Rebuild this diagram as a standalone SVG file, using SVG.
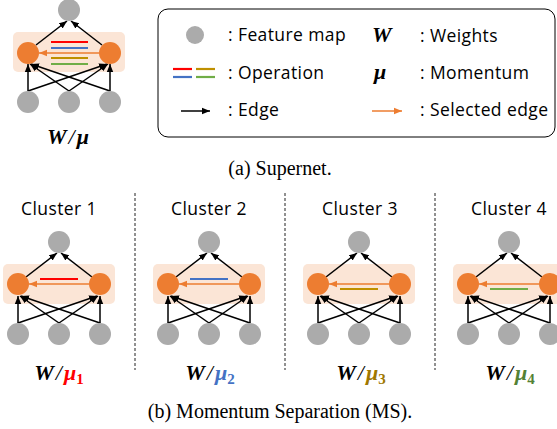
<svg xmlns="http://www.w3.org/2000/svg" width="557" height="429" viewBox="0 0 557 429">
  <defs>
    <style>
      .fm { fill: #ABABAB; }
      .on { fill: #ED7D31; }
      .box { fill: #FBE5D6; }
      .e { stroke: #000; stroke-width: 1.5; fill: none; marker-end: url(#ah); }
      .se { stroke: #ED7D31; stroke-width: 1.5; fill: none; marker-end: url(#aho); }
      .op { stroke-width: 2.2; fill: none; }
      .lbl { font-family: "Open Sans", "Noto Sans", sans-serif; font-size: 17.5px; letter-spacing: 0.4px; fill: #000; }
      .math { font-family: "Liberation Serif", serif; font-weight: bold; font-style: italic; font-size: 22px; }
      .slash { font-weight: normal; }
      .sub { font-style: normal; font-size: 15px; }
      .cap { font-family: "Liberation Serif", serif; font-size: 20px; fill: #000; }
      .sep { stroke: #222; stroke-width: 1; stroke-dasharray: 3 2; }
    </style>
    <marker id="ah" viewBox="0 0 10 10" refX="10" refY="5" markerWidth="8" markerHeight="8" orient="auto" markerUnits="userSpaceOnUse">
      <path d="M0,1 L10,5 L0,9 z" fill="#000"/>
    </marker>
    <marker id="aho" viewBox="0 0 10 10" refX="10" refY="5" markerWidth="8" markerHeight="8" orient="auto" markerUnits="userSpaceOnUse">
      <path d="M0,1 L10,5 L0,9 z" fill="#ED7D31"/>
    </marker>
  </defs>

  <!-- Supernet -->
  <g id="supernet">
    <rect class="box" x="13" y="32" width="112" height="40" rx="5"/>
    <g id="sn-edges">
      <line class="e" x1="36" y1="45" x2="67" y2="21"/>
      <line class="e" x1="102" y1="45" x2="71" y2="21"/>
      <line class="e" x1="28" y1="91" x2="28" y2="64"/>
      <line class="e" x1="28" y1="91" x2="107" y2="64"/>
      <line class="e" x1="69" y1="91" x2="30" y2="64"/>
      <line class="e" x1="69" y1="91" x2="108" y2="64"/>
      <line class="e" x1="110" y1="91" x2="31" y2="64"/>
      <line class="e" x1="110" y1="91" x2="110" y2="64"/>
      <line class="se" x1="99" y1="53" x2="39" y2="53"/>
      <line class="op" stroke="#FF0000" x1="51" y1="42" x2="88" y2="42"/>
      <line class="op" stroke="#4472C4" x1="51" y1="48" x2="88" y2="48"/>
      <line class="op" stroke="#BF9000" x1="51" y1="58" x2="88" y2="58"/>
      <line class="op" stroke="#70AD47" x1="51" y1="64" x2="88" y2="64"/>
    </g>
    <g id="sn-top"><circle class="fm" cx="69" cy="10" r="11"/></g>
    <g id="sn-left"><circle class="on" cx="28" cy="53" r="11"/></g>
    <g id="sn-right"><circle class="on" cx="110" cy="53" r="11"/></g>
    <g id="sn-in1"><circle class="fm" cx="28" cy="102" r="11"/></g>
    <g id="sn-in2"><circle class="fm" cx="69" cy="102" r="11"/></g>
    <g id="sn-in3"><circle class="fm" cx="110" cy="102" r="11"/></g>
    <text class="math" x="68" y="144" text-anchor="middle">W<tspan class="slash" dx="2">/</tspan><tspan dx="2">μ</tspan></text>
  </g>

  <!-- Legend -->
  <g id="legend">
    <rect x="158" y="9" width="397" height="128" rx="10" fill="#fff" stroke="#000" stroke-width="1"/>
    <circle class="fm" cx="195" cy="35" r="9"/>
    <text class="lbl" x="228" y="41">: Feature map</text>
    <line class="op" stroke="#FF0000" x1="173" y1="69" x2="192" y2="69"/>
    <line class="op" stroke="#BF9000" x1="196" y1="69" x2="215" y2="69"/>
    <line class="op" stroke="#4472C4" x1="173" y1="77" x2="192" y2="77"/>
    <line class="op" stroke="#70AD47" x1="196" y1="77" x2="215" y2="77"/>
    <text class="lbl" x="228" y="79">: Operation</text>
    <line class="e" x1="181" y1="111" x2="210" y2="111"/>
    <text class="lbl" x="228" y="116">: Edge</text>
    <text class="math" x="372" y="42">W</text>
    <text class="lbl" x="420" y="42">: Weights</text>
    <text class="math" x="374" y="79">μ</text>
    <text class="lbl" x="420" y="79">: Momentum</text>
    <line class="se" x1="372" y1="111" x2="402" y2="111"/>
    <text class="lbl" x="420" y="116">: Selected edge</text>
  </g>

  <text class="cap" x="280" y="175" text-anchor="middle">(a) Supernet.</text>

  <!-- Separators between clusters -->
  <g id="separators">
    <line class="sep" x1="135" y1="193" x2="135" y2="370"/>
    <line class="sep" x1="285" y1="193" x2="285" y2="370"/>
    <line class="sep" x1="435" y1="193" x2="435" y2="370"/>
  </g>

  <!-- Cluster 1 -->
  <g id="cluster1">
    <text class="lbl" x="59" y="215" text-anchor="middle">Cluster 1</text>
    <g transform="translate(-10,232)">
      <rect class="box" x="13" y="32" width="112" height="40" rx="5"/>
      <g id="c1-edges">
        <line class="e" x1="36" y1="45" x2="67" y2="21"/>
        <line class="e" x1="102" y1="45" x2="71" y2="21"/>
        <line class="e" x1="28" y1="91" x2="28" y2="64"/>
        <line class="e" x1="28" y1="91" x2="107" y2="64"/>
        <line class="e" x1="69" y1="91" x2="30" y2="64"/>
        <line class="e" x1="69" y1="91" x2="108" y2="64"/>
        <line class="e" x1="110" y1="91" x2="31" y2="64"/>
        <line class="e" x1="110" y1="91" x2="110" y2="64"/>
        <line class="se" x1="99" y1="52" x2="39" y2="52"/>
        <line class="op" stroke="#FF0000" x1="50" y1="47" x2="88" y2="47"/>
      </g>
      <g id="c1-top"><circle class="fm" cx="69" cy="10" r="11"/></g>
      <g id="c1-left"><circle class="on" cx="28" cy="52" r="11"/></g>
      <g id="c1-right"><circle class="on" cx="110" cy="52" r="11"/></g>
      <g id="c1-in1"><circle class="fm" cx="28" cy="102" r="11"/></g>
      <g id="c1-in2"><circle class="fm" cx="69" cy="102" r="11"/></g>
      <g id="c1-in3"><circle class="fm" cx="110" cy="102" r="11"/></g>
    </g>
    <text class="math" x="59" y="380" text-anchor="middle">W<tspan class="slash" dx="2">/</tspan><tspan fill="#FF0000" dx="2">μ</tspan><tspan class="sub" fill="#FF0000" dy="4">1</tspan></text>
  </g>

  <!-- Cluster 2 -->
  <g id="cluster2">
    <text class="lbl" x="209" y="215" text-anchor="middle">Cluster 2</text>
    <g transform="translate(140,232)">
      <rect class="box" x="13" y="32" width="112" height="40" rx="5"/>
      <g id="c2-edges">
        <line class="e" x1="36" y1="45" x2="67" y2="21"/>
        <line class="e" x1="102" y1="45" x2="71" y2="21"/>
        <line class="e" x1="28" y1="91" x2="28" y2="64"/>
        <line class="e" x1="28" y1="91" x2="107" y2="64"/>
        <line class="e" x1="69" y1="91" x2="30" y2="64"/>
        <line class="e" x1="69" y1="91" x2="108" y2="64"/>
        <line class="e" x1="110" y1="91" x2="31" y2="64"/>
        <line class="e" x1="110" y1="91" x2="110" y2="64"/>
        <line class="se" x1="99" y1="52" x2="39" y2="52"/>
        <line class="op" stroke="#4472C4" x1="50" y1="47" x2="88" y2="47"/>
      </g>
      <g id="c2-top"><circle class="fm" cx="69" cy="10" r="11"/></g>
      <g id="c2-left"><circle class="on" cx="28" cy="52" r="11"/></g>
      <g id="c2-right"><circle class="on" cx="110" cy="52" r="11"/></g>
      <g id="c2-in1"><circle class="fm" cx="28" cy="102" r="11"/></g>
      <g id="c2-in2"><circle class="fm" cx="69" cy="102" r="11"/></g>
      <g id="c2-in3"><circle class="fm" cx="110" cy="102" r="11"/></g>
    </g>
    <text class="math" x="210" y="380" text-anchor="middle">W<tspan class="slash" dx="2">/</tspan><tspan fill="#4472C4" dx="2">μ</tspan><tspan class="sub" fill="#4472C4" dy="4">2</tspan></text>
  </g>

  <!-- Cluster 3 -->
  <g id="cluster3">
    <text class="lbl" x="360" y="215" text-anchor="middle">Cluster 3</text>
    <g transform="translate(290,232)">
      <rect class="box" x="13" y="32" width="112" height="40" rx="5"/>
      <g id="c3-edges">
        <line class="e" x1="36" y1="45" x2="67" y2="21"/>
        <line class="e" x1="102" y1="45" x2="71" y2="21"/>
        <line class="e" x1="28" y1="91" x2="28" y2="64"/>
        <line class="e" x1="28" y1="91" x2="107" y2="64"/>
        <line class="e" x1="69" y1="91" x2="30" y2="64"/>
        <line class="e" x1="69" y1="91" x2="108" y2="64"/>
        <line class="e" x1="110" y1="91" x2="31" y2="64"/>
        <line class="e" x1="110" y1="91" x2="110" y2="64"/>
        <line class="se" x1="99" y1="52" x2="39" y2="52"/>
        <line class="op" stroke="#BF9000" x1="50" y1="57" x2="88" y2="57"/>
      </g>
      <g id="c3-top"><circle class="fm" cx="69" cy="10" r="11"/></g>
      <g id="c3-left"><circle class="on" cx="28" cy="52" r="11"/></g>
      <g id="c3-right"><circle class="on" cx="110" cy="52" r="11"/></g>
      <g id="c3-in1"><circle class="fm" cx="28" cy="102" r="11"/></g>
      <g id="c3-in2"><circle class="fm" cx="69" cy="102" r="11"/></g>
      <g id="c3-in3"><circle class="fm" cx="110" cy="102" r="11"/></g>
    </g>
    <text class="math" x="361" y="380" text-anchor="middle">W<tspan class="slash" dx="2">/</tspan><tspan fill="#A07800" dx="2">μ</tspan><tspan class="sub" fill="#A07800" dy="4">3</tspan></text>
  </g>

  <!-- Cluster 4 -->
  <g id="cluster4">
    <text class="lbl" x="509" y="215" text-anchor="middle">Cluster 4</text>
    <g transform="translate(440,232)">
      <rect class="box" x="13" y="32" width="112" height="40" rx="5"/>
      <g id="c4-edges">
        <line class="e" x1="36" y1="45" x2="67" y2="21"/>
        <line class="e" x1="102" y1="45" x2="71" y2="21"/>
        <line class="e" x1="28" y1="91" x2="28" y2="64"/>
        <line class="e" x1="28" y1="91" x2="107" y2="64"/>
        <line class="e" x1="69" y1="91" x2="30" y2="64"/>
        <line class="e" x1="69" y1="91" x2="108" y2="64"/>
        <line class="e" x1="110" y1="91" x2="31" y2="64"/>
        <line class="e" x1="110" y1="91" x2="110" y2="64"/>
        <line class="se" x1="99" y1="52" x2="39" y2="52"/>
        <line class="op" stroke="#70AD47" x1="50" y1="57" x2="88" y2="57"/>
      </g>
      <g id="c4-top"><circle class="fm" cx="69" cy="10" r="11"/></g>
      <g id="c4-left"><circle class="on" cx="28" cy="52" r="11"/></g>
      <g id="c4-right"><circle class="on" cx="110" cy="52" r="11"/></g>
      <g id="c4-in1"><circle class="fm" cx="28" cy="102" r="11"/></g>
      <g id="c4-in2"><circle class="fm" cx="69" cy="102" r="11"/></g>
      <g id="c4-in3"><circle class="fm" cx="110" cy="102" r="11"/></g>
    </g>
    <text class="math" x="510" y="380" text-anchor="middle">W<tspan class="slash" dx="2">/</tspan><tspan fill="#548235" dx="2">μ</tspan><tspan class="sub" fill="#548235" dy="4">4</tspan></text>
  </g>

  <text class="cap" x="280" y="418" text-anchor="middle">(b) Momentum Separation (MS).</text>
</svg>
